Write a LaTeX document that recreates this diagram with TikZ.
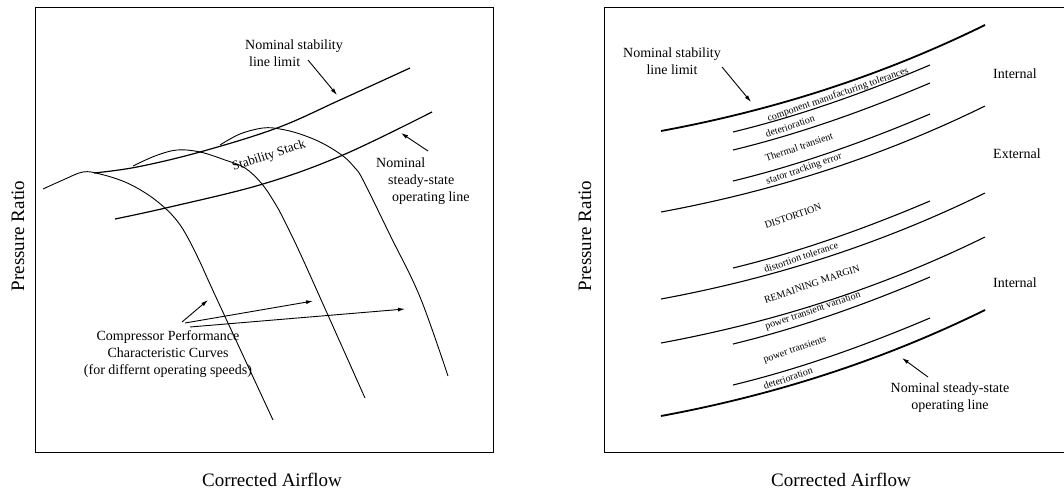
\documentclass[tikz,border=0pt]{standalone}
\usepackage{fontspec}
\setmainfont{Liberation Serif}
\usetikzlibrary{arrows.meta}
\tikzset{
    lbl/.style={font=\fontsize{14}{17}\selectfont,inner sep=0pt},
    axislbl/.style={font=\fontsize{19}{22}\selectfont,inner sep=0pt},
    band/.style={font=\fontsize{10}{12}\selectfont,inner sep=0pt,rotate=19},
    speedline/.style={line width=0.9pt},
    limline/.style={line width=1.2pt},
    thickline/.style={line width=1.8pt},
    midline/.style={line width=1.1pt},
    pointer/.style={line width=0.9pt,-{Latex[length=7pt,width=4pt]}}
}
\begin{document}
\begin{tikzpicture}[x=1pt,y=-1pt]
    \useasboundingbox (0,0) rectangle (1064,492);
    % 左图
    \draw[line width=0.9pt] (35,7) rectangle (493,452);%左图边框
    \node[axislbl,rotate=90] (yleft) at (18,236) {Pressure Ratio};
    \node[axislbl] (xleft) at (272,480) {Corrected Airflow};
    \draw[limline] plot[smooth,tension=0.6] coordinates {(94,173) (137,167) (200,152) (277,128) (340,100) (410,68)};%稳定边界线
    \draw[limline] plot[smooth,tension=0.6] coordinates {(115,219) (170,207) (263,184) (343,155) (432,112)};%工作线
    \draw[speedline] plot[smooth,tension=0.6] coordinates {(43,189) (63,180) (83,172) (100,174) (125,182) (147,194) (165,208) (178,222) (188,238) (200,262) (215,295) (273,420)};
    \draw[speedline] plot[smooth,tension=0.6] coordinates {(133,166) (155,156) (177,150) (200,152) (225,160) (245,168) (262,184) (276,205) (285,222) (300,253) (327,313) (365,398)};
    \draw[speedline] plot[smooth,tension=0.6] coordinates {(220,145) (240,134) (263,128) (280,129) (300,134) (322,143) (343,156) (355,168) (363,180) (390,235) (420,297) (448,376)};
    \node[lbl,align=left,anchor=north west] (slimleft) at (245,40) {Nominal stability\\\hspace*{4pt}line limit};
    \node[lbl,align=left,anchor=north west] (oplleft) at (376,158) {Nominal\\\hspace*{12pt}steady-state\\\hspace*{16pt}operating line};
    \node[font=\fontsize{13}{15}\selectfont,inner sep=0pt,rotate=18] (stack) at (269,156) {Stability Stack};
    \node[lbl,align=center] (ccurves) at (168,354) {Compressor Performance\\Characteristic Curves\\(for differnt operating speeds)};
    \coordinate (sltip) at (337,95);
    \coordinate (optip) at (401,133);
    \coordinate (cc1) at (208,300);
    \coordinate (cc2) at (313,301);
    \coordinate (cc3) at (405,309);
    \draw[pointer] (308,60) -- (sltip);
    \draw[pointer] (428,151) -- (optip);
    \draw[pointer] (182,322) -- (cc1);
    \draw[pointer] (185,323) -- (cc2);
    \draw[pointer] (190,327) -- (cc3);
    % 右图
    \draw[line width=0.9pt] (1070,7) -- (604,7) -- (604,452) -- (1070,452);%右图边框
    \node[axislbl,rotate=90] (yright) at (585,236) {Pressure Ratio};
    \node[axislbl] (xright) at (841,480) {Corrected Airflow};
    \foreach \y in {131,416}
        \draw[thickline] (661,\y) .. controls (769,\y-20) and (877,\y-53) .. (985,\y-106);
    \foreach \y in {212,299,343}
        \draw[midline] (661,\y) .. controls (769,\y-20) and (877,\y-53) .. (985,\y-106);
    \foreach \y in {132,150,181,268,344,385}
        \draw[midline] (733,\y) .. controls (799,\y-16) and (864,\y-39) .. (930,\y-67);
    \node[band] (cmt) at (838,95) {component manufacturing tolerances};
    \node[band] (det1) at (790,126) {deterioration};
    \node[band] (thermal) at (799,147) {Thermal transient};
    \node[band] (stator) at (804,169) {stator tracking error};
    \node[band] (dist) at (793,216) {DISTORTION};
    \node[band] (disttol) at (801,257) {distortion tolerance};
    \node[band] (remain) at (812,284) {REMAINING MARGIN};
    \node[band] (ptv) at (813,311) {power transient variation};
    \node[band] (ptr) at (795,350) {power transients};
    \node[band] (det2) at (788,378) {deterioration};
    \node[lbl,anchor=west] (int1) at (993,74) {Internal};
    \node[lbl,anchor=west] (ext) at (993,154) {External};
    \node[lbl,anchor=west] (int2) at (993,283) {Internal};
    \node[lbl,align=center] (slimright) at (672,61) {Nominal stability\\line limit};
    \node[lbl,align=center] (oplright) at (950,398) {Nominal steady-state\\operating line};
    \coordinate (sltipr) at (751,102);
    \coordinate (optipr) at (902,358);
    \draw[pointer] (722,67) -- (sltipr);
    \draw[pointer] (928,377) -- (optipr);
\end{tikzpicture}
\end{document}
